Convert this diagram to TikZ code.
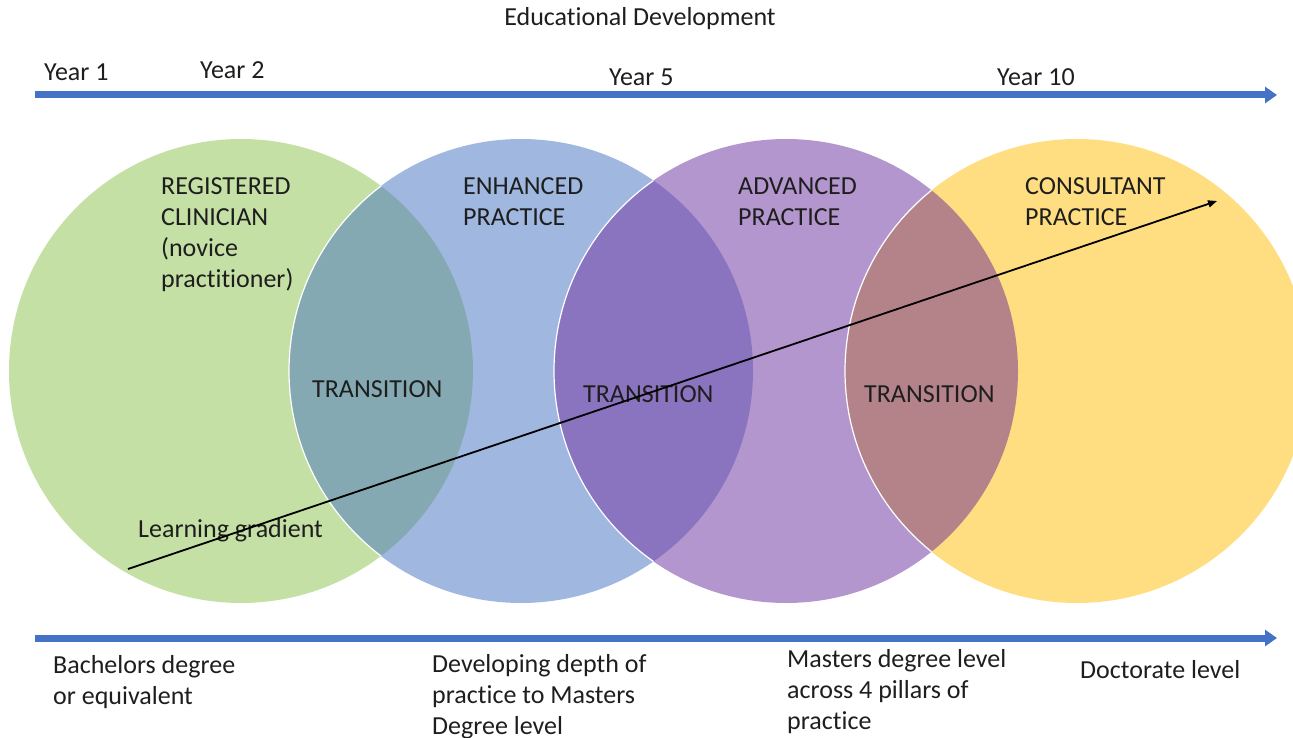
\documentclass[tikz,border=0pt]{standalone}
\usepackage{fontspec}
\setmainfont{Carlito}[Ligatures=NoCommon]
\usetikzlibrary{arrows.meta}
\definecolor{cgreen}{HTML}{C5E0A5}
\definecolor{cblue}{HTML}{A0B8E0}
\definecolor{cpurple}{HTML}{B496CE}
\definecolor{cyellow}{HTML}{FFDE82}
\definecolor{oteal}{HTML}{85A9B2}
\definecolor{oviolet}{HTML}{8A73BF}
\definecolor{omaroon}{HTML}{B38389}
\definecolor{tline}{HTML}{4472C4}
\definecolor{txtcol}{HTML}{1E1E1E}
\newcommand{\mlines}[1]{\begin{tabular}[t]{@{}l@{}}#1\end{tabular}}
\begin{document}
\begin{tikzpicture}[x=1pt,y=-1pt,
  lbl/.style={inner sep=0pt, font=\fontsize{26}{31}\selectfont, text=txtcol},
  lblw/.style={lbl, anchor=base west},
  timeline/.style={draw=tline, line width=7pt, -{Triangle[length=12pt,width=16pt]}},
  gradient/.style={draw=black, line width=1.8pt, -{Triangle[length=9pt,width=7pt]}},
  rim/.style={draw=white, line width=1.2pt}]
\useasboundingbox (0,0) rectangle (1293,738);
\clip (0,0) rectangle (1293,738);
% circle centres
\coordinate (cg) at (241,371);
\coordinate (cb) at (521,371);
\coordinate (cp) at (786,371);
\coordinate (cy) at (1077,371);
% circles
\fill[cgreen] (cg) circle[radius=232pt];
\fill[cblue] (cb) circle[radius=232pt];
\fill[cpurple] (cp) circle[radius=232pt];
\fill[cyellow] (cy) circle[radius=232pt];
% overlaps
\begin{scope}
  \clip (cg) circle[radius=232pt];
  \fill[oteal] (cb) circle[radius=232pt];
  \draw[rim] (cb) circle[radius=232pt];
\end{scope}
\begin{scope}
  \clip (cb) circle[radius=232pt];
  \fill[oviolet] (cp) circle[radius=232pt];
  \draw[rim] (cp) circle[radius=232pt];
\end{scope}
\begin{scope}
  \clip (cp) circle[radius=232pt];
  \fill[omaroon] (cy) circle[radius=232pt];
  \draw[rim] (cy) circle[radius=232pt];
\end{scope}
% timelines
\coordinate (t1s) at (35,95);
\coordinate (t1e) at (1277,95);
\coordinate (t2s) at (35,638);
\coordinate (t2e) at (1277,638);
\draw[timeline] (t1s) -- (t1e);
\draw[timeline] (t2s) -- (t2e);
% titles
\node[lbl, anchor=base] (title) at (640,26) {Educational Development};
\node[lblw] (y1) at (44,81) {Year 1};
\node[lblw] (y2) at (200,79) {Year 2};
\node[lblw] (y5) at (609,86) {Year 5};
\node[lblw] (y10) at (997,86) {Year 10};
% circle labels
\node[lblw] (reg) at (161,195) {\mlines{REGISTERED\\CLINICIAN\\(novice\\practitioner)}};
\node[lblw] (enh) at (463,195) {\mlines{ENHANCED\\PRACTICE}};
\node[lblw] (adv) at (738,195) {\mlines{ADVANCED\\PRACTICE}};
\node[lblw] (con) at (1025,195) {\mlines{CONSULTANT\\PRACTICE}};
\node[lblw] (tr1) at (312,397) {TRANSITION};
\node[lblw] (tr2) at (583,402) {TRANSITION};
\node[lblw] (tr3) at (864,402) {TRANSITION};
\node[lblw] (lg) at (138,537) {Learning gradient};
% learning gradient arrow
\coordinate (gs) at (128,569);
\coordinate (ge) at (1217,201);
\draw[gradient] (gs) -- (ge);
% bottom labels
\node[lblw] (b1) at (53,673) {\mlines{Bachelors degree\\or equivalent}};
\node[lblw] (b2) at (432,672) {\mlines{Developing depth of\\practice to Masters\\Degree level}};
\node[lblw] (b3) at (787,667) {\mlines{Masters degree level\\across 4 pillars of\\practice}};
\node[lblw] (b4) at (1080,678) {Doctorate level};
\end{tikzpicture}
\end{document}
